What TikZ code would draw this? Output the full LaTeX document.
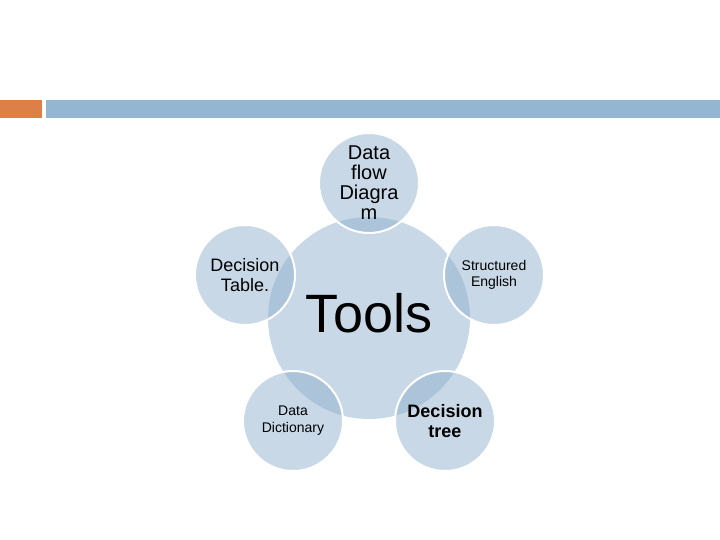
\documentclass[tikz,border=0pt]{standalone}
\usepackage{fontspec}
\setmainfont{Liberation Sans}
\usepackage{xcolor}
\usepackage{tikz}

\definecolor{bubble}{RGB}{145,177,205}
\definecolor{barorange}{RGB}{221,128,71}
\definecolor{barblue}{RGB}{148,182,210}

\begin{document}
\begin{tikzpicture}[
  x=1pt, y=-1pt,
  hub/.style={circle,fill=bubble,fill opacity=0.5,minimum size=202pt,inner sep=0pt},
  sat/.style={circle,draw=white,line width=2pt,fill=bubble,fill opacity=0.5,text opacity=1,minimum size=100pt,inner sep=0pt,align=center},
]
\useasboundingbox (0,0) rectangle (720,540);
% header bar
\fill[barorange] (0,100) rectangle (42,118);
\fill[barblue] (46,100) rectangle (720,118);
% centre
\node[hub] (tools) at (369,318) {};
\node[font=\fontsize{54}{54}\selectfont] (toolslbl) at (369,313) {Tools};
% satellites
\node[sat,font=\fontsize{20}{20}\selectfont] (dfd) at (369,183) {Data\\flow\\Diagra\\m};
\node[sat,font=\fontsize{14}{16}\selectfont] (seng) at (494,275) {Structured\\English};
\node[sat,font=\bfseries\fontsize{18}{20}\selectfont] (dtree) at (445,421) {Decision\\tree};
\node[sat,font=\fontsize{14}{17}\selectfont] (ddict) at (293,421) {Data\\Dictionary};
\node[sat,font=\fontsize{18}{20}\selectfont] (dtable) at (245,275) {Decision\\Table.};
\end{tikzpicture}
\end{document}
